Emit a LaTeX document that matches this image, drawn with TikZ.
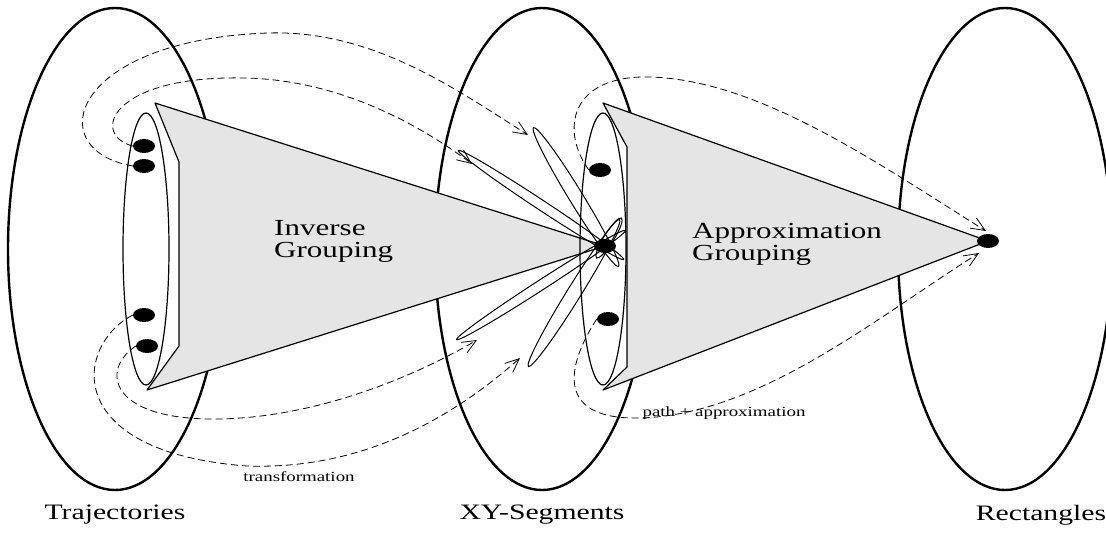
\documentclass[tikz,border=0pt]{standalone}
\usepackage{fontspec}
\setmainfont{Liberation Serif}[FakeStretch=1.35]
\usetikzlibrary{shapes.geometric,arrows.meta,positioning,calc}

\begin{document}
\begin{tikzpicture}[
        x=1pt, y=-1pt,
        bigset/.style={draw, ellipse, line width=2.4pt, minimum width=214pt, minimum height=482pt, inner sep=0pt},
        subset/.style={draw, ellipse, line width=1.2pt, minimum width=46pt, minimum height=272pt, inner sep=0pt},
        blob/.style={ellipse, fill=black, minimum width=22pt, minimum height=14pt, inner sep=0pt},
        petal/.style={draw, ellipse, line width=1pt, inner sep=0pt},
        cone/.style={fill=gray!20, draw, line width=1.2pt, line join=round},
        flow/.style={line width=0.8pt, dash pattern=on 7pt off 4pt, -{Straight Barb[length=14pt, width=12pt]}},
        setlabel/.style={font=\fontsize{22}{24}\selectfont, inner sep=0pt},
        grouplabel/.style={font=\fontsize{23}{22}\selectfont, align=left, inner sep=0pt},
        steplabel/.style={font=\fontsize{14}{16}\selectfont, inner sep=0pt}
    ]
        \useasboundingbox (0,0) rectangle (1106,535);

        % Sets
        \node (traj) [bigset] at (115,249) {};
        \node (seg) [bigset] at (542,249) {};
        \node (rect) [bigset] at (1005,249) {};

        \node (trajname) [setlabel, below=14pt of traj] {Trajectories};
        \node (segname) [setlabel, below=14pt of seg] {XY-Segments};
        \node (rectname) [setlabel, below=14pt of rect, xshift=36pt] {Rectangles};

        % Groupings (cones)
        \coordinate (segapex) at (605,246);
        \coordinate (rectapex) at (988,241);
        \filldraw[cone] (155,103) -- (segapex) -- (147,390) -- (179,346) -- (179,162) -- cycle;
        \filldraw[cone] (603,103) -- (rectapex) -- (603,390) -- (627,367) -- (627,147) -- cycle;

        \node (invgroup) [grouplabel, anchor=west] at (274,241) {Inverse\\Grouping};
        \node (appgroup) [grouplabel, anchor=west] at (692,244) {Approximation\\Grouping};

        % Inner groups
        \node (trajgroup) [subset] at (146,249) {};
        \node (seggroup) [subset] at (603,249) {};

        % Segment petals
        \node (p1) [petal, minimum width=198pt, minimum height=10pt, rotate=-33.4] at (541,205) {};
        \node (p2) [petal, minimum width=163pt, minimum height=14pt, rotate=-58.5] at (576,197) {};
        \node (p3) [petal, minimum width=201pt, minimum height=10pt, rotate=32.9] at (541,285) {};
        \node (p4) [petal, minimum width=173pt, minimum height=14pt, rotate=58.2] at (574,293) {};
        \node (p5) [petal, minimum width=47pt, minimum height=10pt, rotate=58] at (609,238) {};

        % Points
        \node (t1) [blob] at (144,146) {};
        \node (t2) [blob] at (144,166) {};
        \node (t3) [blob] at (144,315) {};
        \node (t4) [blob] at (147,346) {};
        \node (s0) [blob] at (segapex) {};
        \node (s1) [blob] at (600,170) {};
        \node (s2) [blob] at (608,319) {};
        \node (r0) [blob] at (rectapex) {};

        % Transformation
        \coordinate (in1) at (528,135);
        \coordinate (in2) at (472,164);
        \coordinate (in3) at (477,340);
        \coordinate (in4) at (520,358);
        \draw[flow] (t2.west) .. controls (40,150) and (70,40) .. (268,33) .. controls (370,30) and (450,85) .. (in1);
        \draw[flow] (t1.west) .. controls (90,135) and (110,75) .. (245,78) .. controls (340,80) and (420,125) .. (in2);
        \draw[flow] (t4.west) .. controls (100,370) and (110,418) .. (210,419) .. controls (300,420) and (400,385) .. (in3);
        \draw[flow] (t3.west) .. controls (75,345) and (60,452) .. (247,466) .. controls (360,470) and (450,420) .. (in4);
        \node (translabel) [steplabel] at (299,477) {transformation};

        % Path + approximation
        \coordinate (out1) at (986,231);
        \coordinate (out2) at (979,253);
        \draw[flow] (s1.west) .. controls (560,130) and (570,75) .. (650,77) .. controls (760,80) and (880,165) .. (out1);
        \draw[flow] (s2.west) .. controls (570,360) and (550,420) .. (640,418) .. controls (760,415) and (880,315) .. (out2);
        \node (pathlabel) [steplabel] at (724,413) {path + approximation};

    \end{tikzpicture}
\end{document}
